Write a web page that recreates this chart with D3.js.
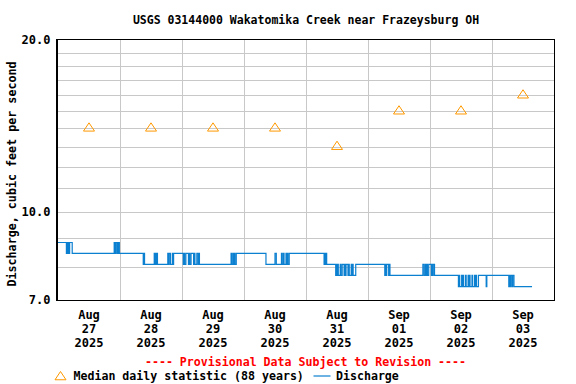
<!DOCTYPE html>
<html>
<head>
<meta charset="utf-8">
<script src="https://cdn.jsdelivr.net/npm/d3@7"></script>
<style>
  body { margin: 0; background: #fff; }
  svg { display: block; }
  text { font-family: "DejaVu Sans Mono", monospace; font-weight: bold; }
</style>
</head>
<body>
<svg id="chart" width="576" height="384"></svg>
<script>
const title = "USGS 03144000 Wakatomika Creek near Frazeysburg OH"
const yTitle = "Discharge, cubic feet per second"
const provisional = "---- Provisional Data Subject to Revision ----"

const w = 576
const h = 384
const margin = { top: 40, right: 22, bottom: 84, left: 58 }

const start = Date.UTC(2025, 7, 27)
const end = Date.UTC(2025, 8, 4)

// days shown under the axis (label sits at noon)
const labelDays = ["2025-08-27", "2025-08-28", "2025-08-29", "2025-08-30",
  "2025-08-31", "2025-09-01", "2025-09-02", "2025-09-03"]
const dayLines = ["2025-08-28", "2025-08-29", "2025-08-30", "2025-08-31",
  "2025-09-01", "2025-09-02", "2025-09-03"]

const yLabels = [7, 10, 20]
const yGrid = [8, 9, 10, 11, 12, 13, 14, 15, 16, 17, 18, 19]

// median daily statistic, one per day
const medianValues = [14, 14, 14, 14, 13, 15, 15, 16]

// discharge, [hours after Aug 27 00:00, cfs], value holds until next step
const discharge = [
  [0, 8.83], [3.25, 8.45], [3.5, 8.83], [3.75, 8.45], [4.0, 8.83], [4.25, 8.45], [4.5, 8.83], [5.5, 8.45],
  [21.75, 8.83], [22.0, 8.45], [22.25, 8.83], [22.75, 8.45], [23.0, 8.83], [23.25, 8.45], [23.5, 8.83], [23.75, 8.45],
  [33.0, 8.08], [33.25, 8.45], [33.5, 8.08],
  [37.25, 8.45], [37.5, 8.08], [37.75, 8.45], [38.0, 8.08], [38.25, 8.45], [38.5, 8.08],
  [42.5, 8.45], [42.75, 8.08], [43.0, 8.45], [43.5, 8.08], [44.25, 8.45], [44.5, 8.08], [44.75, 8.45],
  [48.5, 8.08], [48.75, 8.45], [49.0, 8.08], [49.5, 8.45], [50.5, 8.08], [50.75, 8.45], [51.0, 8.08], [51.5, 8.45],
  [52.5, 8.08], [52.75, 8.45], [53.0, 8.08], [53.75, 8.45], [54.25, 8.08], [54.5, 8.45], [54.75, 8.08],
  [67.0, 8.45], [67.25, 8.08], [67.75, 8.45], [68.0, 8.08], [68.25, 8.45], [68.5, 8.08], [69.0, 8.45],
  [80.5, 8.08], [84.0, 8.45], [84.5, 8.08], [86.5, 8.45], [86.75, 8.08], [87.25, 8.45], [87.5, 8.08],
  [88.25, 8.45], [88.5, 8.08], [88.75, 8.45], [89.0, 8.08], [89.5, 8.45],
  [103.0, 8.08], [103.25, 8.45], [103.5, 8.08], [103.75, 8.45], [104.0, 8.08],
  [107.5, 7.73], [107.75, 8.08], [108.0, 7.73], [108.25, 8.08], [108.5, 7.73], [109.25, 8.08], [109.5, 7.73], [110.0, 8.08],
  [110.75, 7.73], [111.0, 8.08], [111.25, 7.73], [111.5, 8.08], [112.25, 7.73], [112.5, 8.08], [112.75, 7.73], [113.5, 8.08],
  [113.75, 7.73], [114.0, 8.08], [114.25, 7.73], [115.25, 8.08],
  [126.5, 7.73], [126.75, 8.08], [127.0, 7.73], [127.25, 8.08], [128.0, 7.73], [128.25, 8.08], [128.5, 7.73],
  [141.25, 8.08], [141.75, 7.73], [142.25, 8.08], [142.5, 7.73], [142.75, 8.08], [143.0, 7.73], [143.5, 8.08], [144.5, 7.73],
  [144.75, 8.08], [145.0, 7.73], [145.25, 8.08], [145.75, 7.73],
  [155.0, 7.39], [155.25, 7.73], [155.5, 7.39], [156.25, 7.73], [156.5, 7.39], [156.75, 7.73], [157.0, 7.39], [157.75, 7.73],
  [158.0, 7.39], [158.75, 7.73], [159.0, 7.39], [159.25, 7.73], [159.5, 7.39], [160.25, 7.73], [160.5, 7.39], [161.25, 7.73],
  [161.5, 7.39], [161.75, 7.73], [162.0, 7.39], [162.75, 7.73],
  [165.75, 7.39], [166.0, 7.73],
  [174.5, 7.39], [174.75, 7.73], [175.0, 7.39], [175.25, 7.73], [175.75, 7.39], [176.0, 7.73], [176.5, 7.39],
  [183.5, 7.39]
]

const orange = "#ff9900"
const blue = "#0b7fd0"
const grid = "#c8c8c8"

const svg = d3.select('#chart')

const x = d3.scaleUtc()
  .domain([start, end])
  .range([margin.left, w - margin.right])

const y = d3.scaleLog()
  .domain([7, 20])
  .range([h - margin.bottom, margin.top])

const parseDay = d3.utcParse('%Y-%m-%d')
const noon = d => d3.utcHour.offset(parseDay(d), 12)

// grid
svg.append('g')
  .attr('transform', `translate(${margin.left},0)`)
  .call(d3.axisLeft(y).tickValues(yGrid).tickFormat('')
    .tickSize(-(w - margin.left - margin.right)))
  .call(g => g.select('.domain').remove())
  .call(g => g.selectAll('.tick line').attr('stroke', grid).attr('shape-rendering', 'crispEdges'))

svg.append('g')
  .attr('transform', `translate(0,${h - margin.bottom})`)
  .call(d3.axisBottom(x).tickValues(dayLines.map(parseDay)).tickFormat('')
    .tickSize(-(h - margin.top - margin.bottom)))
  .call(g => g.select('.domain').remove())
  .call(g => g.selectAll('.tick line').attr('stroke', grid).attr('shape-rendering', 'crispEdges'))

// discharge
const line = d3.line()
  .curve(d3.curveStepAfter)
  .x(d => x(start + d[0] * 3600e3))
  .y(d => y(d[1]))

svg.append('path')
  .attr('d', line(discharge))
  .attr('fill', 'none')
  .attr('stroke', blue)
  .attr('stroke-width', 1.2)

// medians
const triangle = (cx, cy) => `M${cx},${cy - 5.5}L${cx + 5.5},${cy + 2.75}L${cx - 5.5},${cy + 2.75}Z`

svg.selectAll('path.median')
  .data(medianValues).enter()
  .append('path')
    .classed('median', true)
    .attr('d', (d, i) => triangle(x(noon(labelDays[i])), y(d)))
    .attr('fill', 'none')
    .attr('stroke', orange)
    .attr('stroke-width', 1)

// frame
svg.append('rect')
  .attr('x', margin.left - 0.5)
  .attr('y', margin.top - 0.5)
  .attr('width', w - margin.left - margin.right + 1)
  .attr('height', h - margin.top - margin.bottom + 1)
  .attr('fill', 'none')
  .attr('stroke', 'black')
  .attr('stroke-width', 1)
  .attr('shape-rendering', 'crispEdges')

svg.append('line')
  .attr('x1', margin.left - 1.5).attr('x2', margin.left - 1.5)
  .attr('y1', margin.top - 1).attr('y2', h - margin.bottom + 1)
  .attr('stroke', 'black')

// y labels
svg.append('g')
  .attr('transform', `translate(${margin.left},0)`)
  .call(d3.axisLeft(y).tickValues(yLabels).tickFormat(d3.format('.1f')).tickSize(0).tickPadding(7.5))
  .call(g => g.select('.domain').remove())
  .call(g => g.selectAll('.tick text')
    .attr('fill', 'black')
    .style('font-family', '"DejaVu Sans Mono", monospace')
    .style('font-size', '12px')
    .style('font-weight', 'bold'))

// x labels
const fmts = [d3.utcFormat('%b'), d3.utcFormat('%d'), d3.utcFormat('%Y')]
const xl = svg.selectAll('text.xl')
  .data(labelDays).enter()
  .append('text')
    .classed('xl', true)
    .attr('text-anchor', 'middle')
    .style('font-size', '12px')

fmts.forEach((f, i) => {
  xl.append('tspan')
    .attr('x', d => x(noon(d)))
    .attr('y', 319 + i * 14)
    .text(d => f(parseDay(d)))
})

svg.append('text')
  .attr('x', (margin.left + w - margin.right) / 2)
  .attr('y', 24)
  .attr('text-anchor', 'middle')
  .style('font-size', '11.5px')
  .text(title)

svg.append('text')
  .attr('transform', 'translate(16,174) rotate(-90)')
  .attr('text-anchor', 'middle')
  .style('font-size', '11.7px')
  .text(yTitle)

svg.append('text')
  .attr('x', 305.5)
  .attr('y', 366)
  .attr('text-anchor', 'middle')
  .attr('fill', 'red')
  .style('font-size', '11.6px')
  .text(provisional)

// legend
svg.append('path')
  .attr('d', triangle(60.5, 377))
  .attr('fill', 'none')
  .attr('stroke', orange)

svg.append('text')
  .attr('x', 73.5)
  .attr('y', 379.5)
  .style('font-size', '11.6px')
  .text('Median daily statistic (88 years)')

svg.append('line')
  .attr('x1', 313.5).attr('x2', 330.5)
  .attr('y1', 376).attr('y2', 376)
  .attr('stroke', blue)
  .attr('stroke-width', 1.2)

svg.append('text')
  .attr('x', 336)
  .attr('y', 379.5)
  .style('font-size', '11.6px')
  .text('Discharge')
</script>
</body>
</html>
